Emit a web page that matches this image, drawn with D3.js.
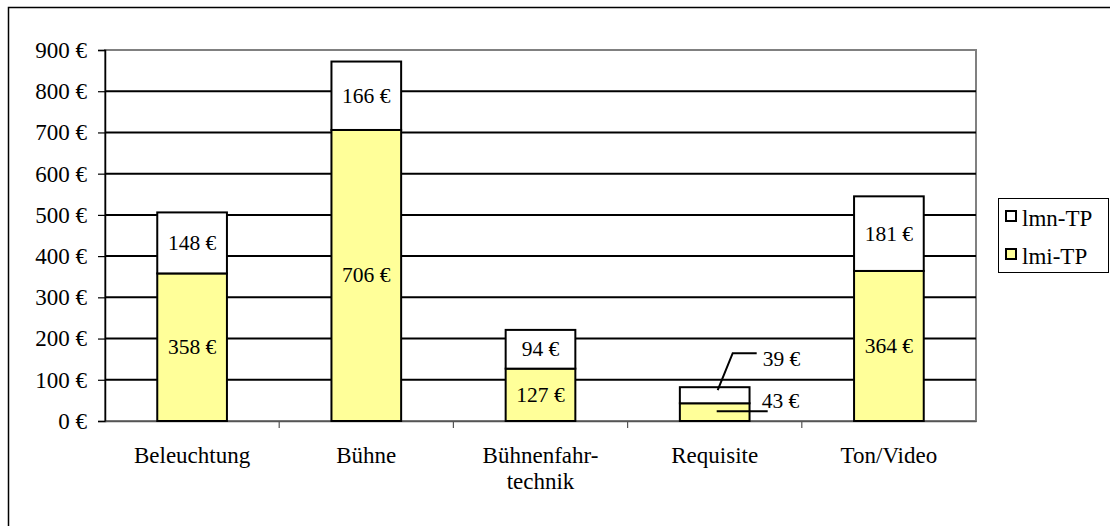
<!DOCTYPE html>
<html><head><meta charset="utf-8">
<script src="https://cdn.jsdelivr.net/npm/d3@7"></script>
<style>body{margin:0;background:#fff}svg{display:block}text{font-family:"Liberation Serif","Times New Roman",serif;fill:#000}</style>
</head><body><svg id="c" width="1110" height="526"></svg>
<script>
const categories = ["Beleuchtung", "Bühne", "Bühnenfahr-\ntechnik", "Requisite", "Ton/Video"];
const lmiTP = [358, 706, 127, 43, 364];
const lmnTP = [148, 166, 94, 39, 181];
const seriesNames = ["lmn-TP", "lmi-TP"];
const yTicks = [0, 100, 200, 300, 400, 500, 600, 700, 800, 900];

const svg = d3.select("#c");
const L = 105, R = 976, T = 50, B = 421;
const FS = "23px", VFS = "21.5px";
const x = d3.scaleBand().domain(categories).range([L, R]).paddingInner(0.6).paddingOuter(0.3);
const xb = d3.scaleBand().domain(categories).range([L, R]);
const y = d3.scaleLinear().domain([0, 900]).range([B, T]);
const fmt = v => v + " €";
const yellow = "#ffff99";

// outer frame
svg.append("rect").attr("x", 8.5).attr("y", 7.5).attr("width", 1120).attr("height", 540)
  .attr("fill", "none").attr("stroke", "#000").attr("stroke-width", 1.5);

// plot area border (grey)
svg.append("rect").attr("x", L).attr("y", T).attr("width", R - L).attr("height", B - T)
  .attr("fill", "none").attr("stroke", "#808080").attr("stroke-width", 2);

// gridlines
svg.append("g").selectAll("line").data(yTicks.filter(t => t > 0 && t < 900)).join("line")
  .attr("x1", L).attr("x2", R).attr("y1", d => y(d)).attr("y2", d => y(d))
  .attr("stroke", "#000").attr("stroke-width", 2);

// y axis
const ya = svg.append("g").attr("transform", `translate(${L},0)`)
  .call(d3.axisLeft(y).tickValues(yTicks).tickFormat(fmt).tickSize(7).tickPadding(11));
ya.select(".domain").attr("stroke", "#000").attr("stroke-width", 1.5);
ya.selectAll(".tick line").attr("stroke", "#000").attr("stroke-width", 1.2);
ya.selectAll(".tick text").style("font-size", FS).style("font-family", "Liberation Serif, serif").attr("fill", "#000");

// x axis
const xa = svg.append("g").attr("transform", `translate(0,${B})`)
  .call(d3.axisBottom(xb).tickSize(0).tickFormat(""));
xa.select(".domain").attr("stroke", "#555").attr("stroke-width", 1.5);
xa.selectAll(".tick").remove();
svg.append("g").selectAll("line").data(categories.slice(1)).join("line")
  .attr("x1", d => xb(d)).attr("x2", d => xb(d)).attr("y1", B).attr("y2", B + 7)
  .attr("stroke", "#555").attr("stroke-width", 1.2);

// category labels
categories.forEach(c => {
  const lines = c.split("\n");
  const cx = x(c) + x.bandwidth() / 2;
  const t = svg.append("text").attr("x", cx).attr("y", 463)
    .attr("text-anchor", "middle").style("font-size", FS);
  lines.forEach((l, i) => t.append("tspan").attr("x", cx).attr("dy", i ? 26 : 0).text(l));
});

// bars
const bars = svg.append("g");
categories.forEach((c, i) => {
  const x0 = x(c), w = x.bandwidth();
  bars.append("rect").attr("x", x0).attr("y", y(lmiTP[i])).attr("width", w).attr("height", y(0) - y(lmiTP[i]))
    .attr("fill", yellow).attr("stroke", "#000").attr("stroke-width", 2);
  bars.append("rect").attr("x", x0).attr("y", y(lmiTP[i] + lmnTP[i])).attr("width", w)
    .attr("height", y(lmiTP[i]) - y(lmiTP[i] + lmnTP[i]))
    .attr("fill", "#fff").attr("stroke", "#000").attr("stroke-width", 2);
});

// labels
categories.forEach((c, i) => {
  const cx = x(c) + x.bandwidth() / 2;
  if (c === "Requisite") {
    const lx = cx + 3;
    const ym = y(lmiTP[i] + lmnTP[i] / 2) - 5;
    const yt = ym - 37;
    svg.append("polyline").attr("points", `${lx},${ym} ${lx + 15},${yt} ${lx + 39},${yt}`)
      .attr("fill", "none").attr("stroke", "#000").attr("stroke-width", 2);
    svg.append("text").attr("x", lx + 45).attr("y", yt + 13).style("font-size", VFS).text(fmt(lmnTP[i]));
    const yl = y(lmiTP[i] / 2) - 1;
    svg.append("line").attr("x1", lx - 1).attr("x2", lx + 50).attr("y1", yl).attr("y2", yl)
      .attr("stroke", "#000").attr("stroke-width", 2);
    svg.append("text").attr("x", lx + 44).attr("y", yl - 3).style("font-size", VFS).text(fmt(lmiTP[i]));
  } else {
    svg.append("text").attr("x", cx).attr("y", y(lmiTP[i] / 2) + 7).attr("text-anchor", "middle")
      .style("font-size", VFS).text(fmt(lmiTP[i]));
    svg.append("text").attr("x", cx).attr("y", y(lmiTP[i] + lmnTP[i] / 2) + 7).attr("text-anchor", "middle")
      .style("font-size", VFS).text(fmt(lmnTP[i]));
  }
});

// legend
const lg = svg.append("g");
lg.append("rect").attr("x", 998.5).attr("y", 198.5).attr("width", 110).attr("height", 74)
  .attr("fill", "#fff").attr("stroke", "#000").attr("stroke-width", 1);
const fills = ["#fff", yellow];
seriesNames.forEach((s, i) => {
  const yy = 216 + i * 38;
  lg.append("rect").attr("x", 1006).attr("y", yy - 5).attr("width", 10).attr("height", 10)
    .attr("fill", fills[i]).attr("stroke", "#000").attr("stroke-width", 2);
  lg.append("text").attr("x", 1022).attr("y", yy + 10).style("font-size", FS).text(s);
});
</script></body></html>
